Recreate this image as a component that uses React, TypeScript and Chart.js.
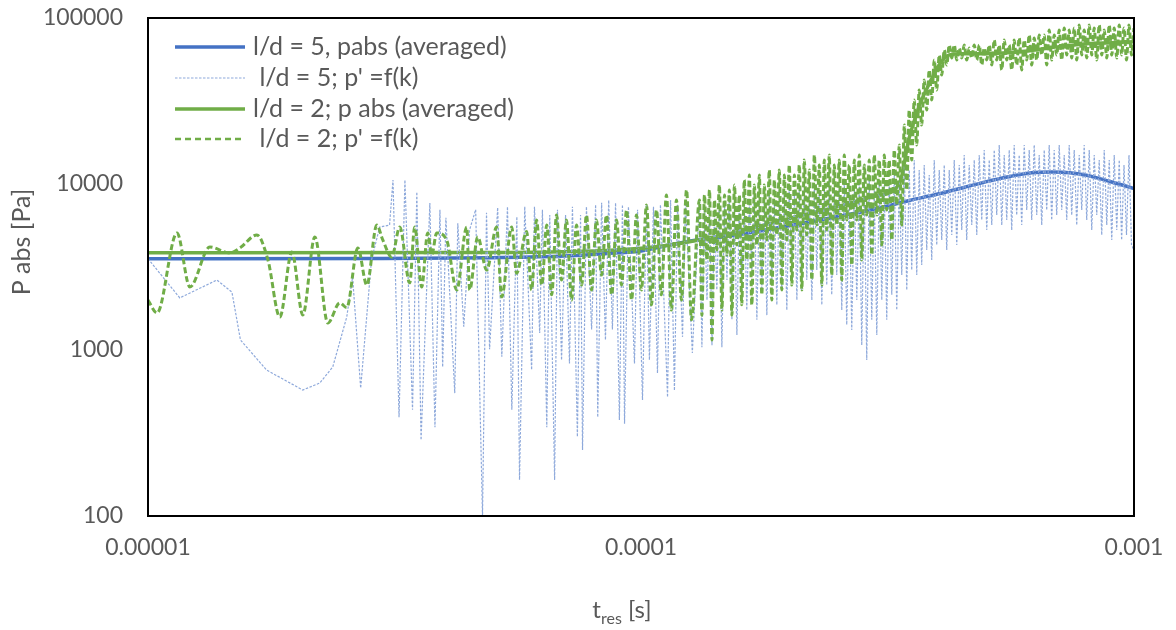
import React, { useEffect, useRef } from "react";
import { Chart, registerables } from "chart.js";

Chart.register(...registerables);

// ---------- DATA (time in microseconds, pressure in Pa) ----------
const xTickValues = [0.00001, 0.0001, 0.001];
const xTickLabels = ["0.00001", "0.0001", "0.001"];
const yTickValues = [100, 1000, 10000, 100000];
const yTickLabels = ["100", "1000", "10000", "100000"];

const seriesLabels = [
  "l/d = 5, pabs (averaged)",
  " l/d = 5; p' =f(k)",
  "l/d = 2; p abs (averaged)",
  " l/d = 2; p' =f(k)",
];

// l/d = 5 averaged
const tAvg5Us = [10, 30, 50, 70, 90, 100, 112, 130, 150, 180, 220, 260, 300, 350, 400, 450, 500, 560, 620, 680, 740, 800, 860, 920, 1000];
const pAvg5 = [3550, 3560, 3600, 3680, 3850, 3950, 4250, 4600, 4850, 5300, 5900, 6500, 7100, 7950, 8700, 9500, 10300, 11100, 11700, 11800, 11700, 11300, 10700, 10100, 9400];

// l/d = 2 averaged
const tAvg2Us = [10, 50, 80, 100, 115, 150, 200, 250, 300, 334, 350, 366, 384, 402, 422, 450, 500, 600, 700, 800, 900, 1000];
const pAvg2 = [3850, 3870, 3950, 4100, 4300, 5000, 6200, 7300, 8500, 10000, 19000, 29000, 40000, 52000, 60000, 61000, 61000, 63000, 67000, 70000, 71000, 72000];

// l/d = 5 fluctuating, early part
const tFluct5EarlyUs = [10, 11.6, 13.8, 14.8, 15.4, 17.4, 20.6, 22.3, 23.7, 25.3, 26.0, 27.0, 28.4, 29.5, 30.9, 31.4, 32.3, 33.2, 34.4, 35.1, 35.8, 37.3, 38.2, 39.1, 39.6, 40.2, 41.9, 42.5, 43.7, 44.9, 46.2, 47.7, 48.6, 49.3, 51.2, 52.2, 53.6, 54.7, 56.0, 56.7, 58.1, 60.0, 60.8, 62.3, 63.1, 64.4, 65.3, 66.8, 67.7, 69.0, 70.3, 71.6, 72.6, 74.3, 75.4, 76.1, 77.5, 79.4, 80.9, 81.7, 83.2, 84.7, 86.0, 87.5, 88.8, 90.4, 91.7, 92.6, 94.3, 97.0, 98.4, 100.7, 102.6, 104.0, 106.0, 108.0, 109.5, 113.2, 114.8, 116.9, 118.6, 121.4, 123.1, 127.1];
const pFluct5Early = [3550, 2060, 2640, 2230, 1150, 757, 574, 632, 790, 1580, 2750, 590, 3480, 5500, 5660, 10570, 394, 10570, 436, 8950, 287, 7690, 343, 7000, 790, 6250, 550, 5800, 1380, 5290, 7000, 100, 6700, 1010, 7200, 910, 7300, 436, 6350, 165, 7300, 760, 7300, 1265, 7000, 343, 6500, 165, 7000, 870, 6500, 830, 7300, 300, 6500, 250, 7300, 1330, 7500, 394, 7700, 1150, 8000, 1330, 7700, 379, 7500, 360, 7300, 830, 7000, 500, 7500, 870, 7300, 726, 7500, 520, 8000, 570, 7500, 1200, 7700, 960];

// l/d = 2 fluctuating, early part
const tFluct2EarlyUs = [10, 10.43, 11.45, 12.16, 13.35, 14.66, 15.36, 16.63, 17.51, 18.51, 19.58, 20.61, 21.80, 23.16, 24.49, 25.30, 26.65, 27.79, 29.11, 29.94, 31.22, 32.41, 33.95, 34.75, 35.91, 36.93, 37.63, 38.51, 40.35, 42.29, 44.31, 44.93, 46.64, 48.64, 50.96, 52.16, 54.66, 55.94, 58.61, 60.0, 61.4, 62.9, 64.4, 65.9, 67.4, 69.0, 70.6, 72.3, 74.0, 75.8, 77.5, 79.4, 81.2, 83.2, 85.1, 87.2, 89.2, 91.3, 93.5, 95.7, 97.9, 100.2, 102.6, 105.0, 107.5, 110.0, 112.6, 115.3, 118.0, 120.8, 123.7, 126.6];
const pFluct2Early = [2000, 1670, 5070, 2400, 4170, 3840, 4120, 4930, 3490, 1580, 3890, 1625, 4800, 1455, 1920, 1800, 4120, 2460, 5660, 4600, 3630, 5500, 2540, 5500, 2400, 5070, 3740, 5070, 4600, 2300, 5500, 2300, 4800, 3030, 5500, 2090, 5500, 2900, 5180, 2300, 6070, 2460, 5660, 2150, 6500, 2640, 6070, 2000, 5660, 2460, 6500, 2300, 6070, 2830, 6500, 2150, 6070, 2460, 6970, 2000, 6500, 2300, 7470, 1870, 6970, 2150, 8580, 1740, 8010, 2000, 9200, 1520];

// shared time grid of the dense (late) part
const tDenseUs = [
  131.4, 132.9, 134.5, 136.1, 137.7, 139.3, 140.9, 142.5, 144.2, 145.9,
  147.7, 149.4, 151.1, 152.9, 154.7, 156.5, 158.3, 160.1, 162.0, 163.9,
  165.9, 167.8, 169.8, 171.8, 173.8, 175.8, 177.9, 180.0, 182.1, 184.2,
  186.4, 188.6, 190.8, 193.0, 195.3, 197.6, 199.9, 202.3, 204.7, 207.1,
  209.5, 211.9, 214.4, 216.9, 219.5, 222.1, 224.7, 227.3, 230.0, 232.7,
  235.4, 238.1, 240.9, 243.7, 246.6, 249.5, 252.5, 255.4, 258.4, 261.4,
  264.5, 267.6, 270.8, 274.0, 277.2, 280.4, 283.7, 287.0, 290.4, 293.8,
  297.3, 300.8, 304.3, 307.9, 311.5, 315.1, 318.8, 322.6, 326.4, 330.2,
  334.1, 338.0, 342.0, 346.0, 350.0, 354.1, 358.3, 362.5, 366.7, 371.0,
  375.4, 379.8, 384.3, 388.8, 393.4, 398.0, 402.7, 407.4, 412.2, 417.0,
  421.9, 426.9, 431.9, 437.0, 442.1, 447.3, 452.5, 457.8, 463.2, 468.7,
  474.2, 479.8, 485.4, 491.1, 496.8, 502.7, 508.6, 514.6, 520.6, 526.7,
  532.9, 539.2, 545.5, 551.9, 558.4, 564.9, 571.5, 578.2, 585.0, 591.9,
  598.9, 605.9, 613.0, 620.2, 627.5, 634.9, 642.3, 649.9, 657.5, 665.2,
  673.0, 680.9, 688.9, 697.0, 705.2, 713.5, 721.9, 730.4, 738.9, 747.6,
  756.4, 765.3, 774.3, 783.4, 792.5, 801.9, 811.3, 820.9, 830.5, 840.3,
  850.1, 860.1, 870.2, 880.5, 890.8, 901.3, 911.8, 922.6, 933.4, 943.9,
  954.4, 965.6, 976.9, 988.4, 1000,
];

const pFluct5Dense = [
  8010, 1040, 7470, 2000, 8010, 1070, 6970, 2300, 8010, 1040,
  7470, 2640, 8580, 1520, 7470, 1230, 8010, 2000, 8580, 1740,
  8010, 3030, 9200, 1520, 8010, 2300, 8580, 1620, 9200, 2640,
  8010, 1870, 9200, 2300, 8580, 1740, 9860, 2830, 8580, 2000,
  9200, 2300, 9860, 2640, 8580, 2000, 9860, 3030, 9200, 1870,
  9860, 2460, 10570, 2150, 9200, 2830, 9860, 1740, 10570, 1420,
  9200, 1320, 9860, 2000, 10570, 1070, 9860, 870, 10570, 1520,
  9200, 1230, 10570, 2000, 9860, 1520, 10570, 2150, 11330, 1740,
  10570, 2830, 13020, 2300, 12140, 3030, 13950, 2830, 12140, 3250,
  13020, 4000, 11330, 3490, 13950, 4290, 12140, 4600, 13020, 4000,
  12140, 4930, 13950, 4290, 13020, 5280, 14950, 4600, 13020, 5660,
  13950, 4930, 14950, 6070, 16030, 5280, 13950, 5660, 16030, 6500,
  17180, 5660, 14950, 6070, 16030, 5280, 17180, 6500, 14950, 5660,
  17180, 6970, 16030, 6070, 17180, 6500, 14950, 5660, 16030, 6970,
  17180, 6070, 16030, 6500, 17180, 6970, 14950, 6070, 17180, 6500,
  16030, 5660, 14950, 6970, 17180, 6070, 16030, 5280, 14950, 6500,
  13950, 4930, 16030, 5660, 13950, 4600, 14950, 5280, 13950, 4600,
  13020, 4930, 14950, 4290, 4000,
];

const pFluct2Dense = [
  8010, 1620, 8580, 3490, 9200, 1150, 8010, 4000, 9860, 1740,
  8580, 3740, 9200, 1620, 9860, 4290, 8580, 1870, 10570, 3490,
  11330, 1870, 9860, 4290, 11330, 2150, 9860, 4600, 12140, 2000,
  10570, 4930, 12140, 2300, 11330, 4600, 13020, 2460, 11330, 5280,
  13020, 2300, 13950, 4930, 12140, 2640, 14950, 5660, 13020, 2460,
  13950, 5280, 14950, 2830, 13020, 5660, 13950, 2640, 14950, 6070,
  13020, 3250, 13950, 6070, 14950, 3490, 13020, 6500, 13950, 3740,
  14950, 6500, 13950, 4290, 14950, 6970, 13950, 4600, 16030, 7470,
  17180, 5660, 22670, 9200, 27920, 13950, 32070, 17180, 36840, 22670,
  42320, 27920, 48620, 32070, 55840, 36840, 59850, 45360, 64160, 52110,
  68770, 57410, 68770, 55840, 65960, 57410, 68770, 55840, 65960, 57410,
  68770, 55840, 68770, 52110, 65960, 55840, 68770, 52110, 73700, 55840,
  68770, 48620, 73700, 55840, 68770, 48620, 73700, 52110, 75770, 48620,
  73700, 55840, 78990, 52110, 75770, 55840, 78990, 59850, 78990, 52110,
  84660, 55840, 78990, 59850, 84660, 55840, 87030, 59850, 84660, 57410,
  87030, 55840, 90750, 59850, 84660, 57410, 90750, 59850, 87030, 55840,
  90750, 59850, 84660, 57410, 90750, 59850, 87030, 57410, 90750, 59850,
  87030, 55840, 90750, 59850, 87030,
];

// ---------- STYLE ----------
const FONT = 'Lato, "Open Sans", "DejaVu Sans", sans-serif';
const TEXT_COLOR = "#595959";
const seriesStyles = [
  { color: "#4472C4", width: 3.5, dash: [] as number[] },
  { color: "#8EA9DB", width: 1.2, dash: [2.5, 1.5] },
  { color: "#70AD47", width: 3.5, dash: [] as number[] },
  { color: "#70AD47", width: 3, dash: [6, 3] },
];
const legendRowsY = [47, 78, 109, 139];

function toPoints(tUs: number[], p: number[]) {
  const n = Math.min(tUs.length, p.length);
  const out: { x: number; y: number }[] = [];
  for (let i = 0; i < n; i++) out.push({ x: tUs[i] / 1e6, y: p[i] });
  return out;
}

const overlayPlugin = {
  id: "overlay",
  afterDraw(chart: any) {
    const { ctx, chartArea: a } = chart;
    ctx.save();
    // plot frame
    ctx.setLineDash([]);
    ctx.strokeStyle = "#000000";
    ctx.lineWidth = 2;
    ctx.strokeRect(a.left, a.top, a.right - a.left, a.bottom - a.top);

    // legend inside plot
    ctx.font = `25px ${FONT}`;
    ctx.textBaseline = "middle";
    ctx.textAlign = "left";
    seriesLabels.forEach((label, i) => {
      const y = legendRowsY[i];
      const s = seriesStyles[i];
      ctx.beginPath();
      ctx.strokeStyle = s.color;
      ctx.lineWidth = i === 3 ? 2.5 : s.width;
      ctx.setLineDash(i === 3 ? [6, 4] : s.dash);
      ctx.moveTo(175, y);
      ctx.lineTo(245, y);
      ctx.stroke();
      ctx.setLineDash([]);
      ctx.fillStyle = TEXT_COLOR;
      ctx.fillText(label, 253, y);
    });

    // x axis title with subscript
    ctx.fillStyle = TEXT_COLOR;
    ctx.textBaseline = "alphabetic";
    ctx.font = `24px ${FONT}`;
    const w1 = ctx.measureText("t").width;
    const w3 = ctx.measureText(" [s]").width;
    ctx.font = `16px ${FONT}`;
    const w2 = ctx.measureText("res").width;
    let x = 622 - (w1 + w2 + w3) / 2;
    ctx.font = `24px ${FONT}`;
    ctx.fillText("t", x, 618);
    x += w1;
    ctx.font = `16px ${FONT}`;
    ctx.fillText("res", x, 624);
    x += w2;
    ctx.font = `24px ${FONT}`;
    ctx.fillText(" [s]", x, 618);

    // y axis title
    ctx.translate(22, 242);
    ctx.rotate(-Math.PI / 2);
    ctx.textAlign = "center";
    ctx.textBaseline = "middle";
    ctx.font = `25px ${FONT}`;
    ctx.fillText("P abs [Pa]", 0, 0);
    ctx.restore();
  },
};

export default function App() {
  const ref = useRef<HTMLCanvasElement>(null);

  useEffect(() => {
    if (!ref.current) return;
    const datasets: any[] = [
      {
        label: seriesLabels[0].trim(),
        data: toPoints(tAvg5Us, pAvg5),
        borderColor: seriesStyles[0].color,
        borderWidth: seriesStyles[0].width,
        borderDash: seriesStyles[0].dash,
        cubicInterpolationMode: "monotone",
        order: 3,
      },
      {
        label: seriesLabels[1].trim(),
        data: toPoints([...tFluct5EarlyUs, ...tDenseUs], [...pFluct5Early, ...pFluct5Dense]),
        borderColor: seriesStyles[1].color,
        borderWidth: seriesStyles[1].width,
        borderDash: seriesStyles[1].dash,
        order: 1,
      },
      {
        label: seriesLabels[2].trim(),
        data: toPoints(tAvg2Us, pAvg2),
        borderColor: seriesStyles[2].color,
        borderWidth: seriesStyles[2].width,
        borderDash: seriesStyles[2].dash,
        cubicInterpolationMode: "monotone",
        order: 2,
      },
      {
        label: seriesLabels[3].trim(),
        data: toPoints([...tFluct2EarlyUs, ...tDenseUs], [...pFluct2Early, ...pFluct2Dense]),
        borderColor: seriesStyles[3].color,
        borderWidth: seriesStyles[3].width,
        borderDash: seriesStyles[3].dash,
        cubicInterpolationMode: "monotone",
        order: 0,
      },
    ];

    const chart = new Chart(ref.current, {
      type: "line",
      data: { datasets },
      options: {
        animation: false,
        responsive: false,
        devicePixelRatio: 1,
        layout: { padding: { left: 0, right: 42, top: 18, bottom: 0 } },
        elements: { point: { radius: 0 }, line: { tension: 0, fill: false } },
        plugins: { legend: { display: false }, tooltip: { enabled: false } },
        scales: {
          x: {
            type: "logarithmic",
            min: 0.00001,
            max: 0.001,
            afterBuildTicks: (s: any) => {
              s.ticks = xTickValues.map((v) => ({ value: v }));
            },
            afterFit: (s: any) => {
              s.height = 114;
              s.paddingLeft = 0;
              s.paddingRight = 0;
            },
            grid: { display: false, drawTicks: false },
            border: { display: false },
            ticks: {
              autoSkip: false,
              maxRotation: 0,
              minRotation: 0,
              padding: 18,
              color: TEXT_COLOR,
              font: { family: FONT, size: 23 },
              callback: (_v: any, i: number) => xTickLabels[i],
            },
          },
          y: {
            type: "logarithmic",
            min: 100,
            max: 100000,
            afterBuildTicks: (s: any) => {
              s.ticks = yTickValues.map((v) => ({ value: v }));
            },
            afterFit: (s: any) => {
              s.width = 148;
              s.paddingTop = 0;
              s.paddingBottom = 0;
            },
            grid: { display: false, drawTicks: false },
            border: { display: false },
            ticks: {
              autoSkip: false,
              padding: 25,
              color: TEXT_COLOR,
              font: { family: FONT, size: 23 },
              callback: (_v: any, i: number) => yTickLabels[i],
            },
          },
        },
      } as any,
      plugins: [overlayPlugin],
    });
    return () => chart.destroy();
  }, []);

  return (
    <div style={{ position: "absolute", left: 0, top: 0, width: 1176, height: 630, background: "#ffffff" }}>
      <canvas ref={ref} width={1176} height={630} style={{ display: "block", width: 1176, height: 630 }} />
    </div>
  );
}
